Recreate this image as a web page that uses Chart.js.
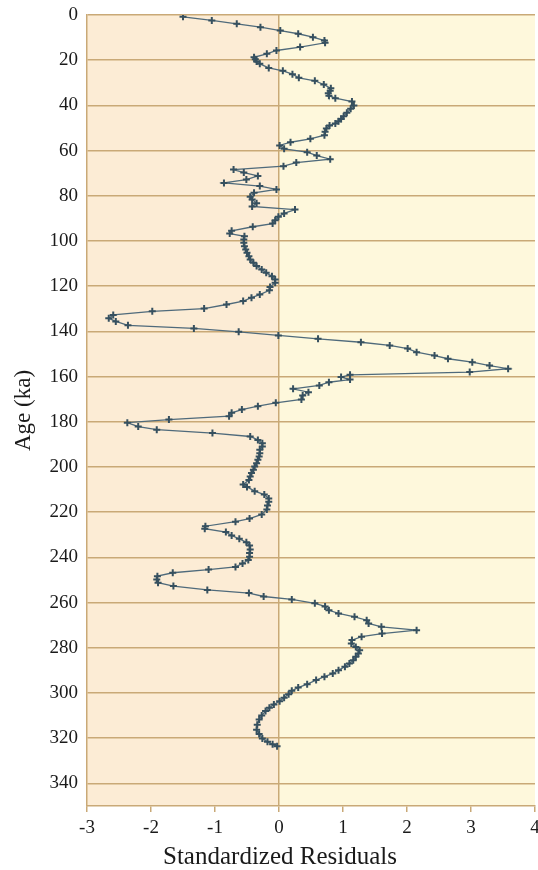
<!DOCTYPE html>
<html>
<head>
<meta charset="utf-8">
<script src="https://cdn.jsdelivr.net/npm/chart.js@4.4.1/dist/chart.umd.min.js"></script>
<style>
  html, body { margin: 0; padding: 0; background: #ffffff; }
  #wrap { width: 538px; height: 870px; position: relative; }
</style>
</head>
<body>
<div id="wrap"><canvas id="chart-residuals"></canvas></div>
<script>
// Age (ka) of each sample
const ages = [
  0.8, 2.4, 3.9, 5.4, 6.9, 8.3, 9.8, 11.3, 12.3, 14.2, 15.7, 17.2, 18.7, 19.6, 20.6, 21.6, 23.4, 24.7, 26.2, 27.8,
  29.1, 30.8, 32.4, 33.5, 34.6, 35.7, 36.8, 38.3, 40.0, 41.5, 43.3, 44.8, 46.0, 47.0, 48.0, 48.9, 50.2, 51.7, 53.2, 54.8,
  56.3, 57.7, 59.2, 60.7, 62.2, 63.8, 65.3, 66.9, 68.4, 69.7, 71.2, 72.8, 74.3, 75.7, 77.2, 78.7, 80.4, 81.6, 83.3, 84.7,
  86.1, 87.8, 89.3, 90.8, 92.3, 93.7, 95.5, 96.7, 97.9, 99.3, 100.8, 102.3, 103.8, 105.2, 106.7, 108.2, 109.6, 111.1, 112.6, 114.1,
  115.6, 117.0, 118.5, 120.3, 121.8, 123.7, 125.1, 126.6, 128.1, 129.9, 131.1, 132.7, 134.2, 135.6, 137.3, 138.7, 140.2, 141.8, 143.3, 144.8,
  146.2, 147.6, 149.2, 150.7, 152.1, 153.6, 155.1, 156.5, 158.0, 159.2, 160.2, 161.3, 162.5, 163.9, 165.4, 166.9, 168.4, 170.1, 171.6, 173.1,
  174.6, 176.0, 177.5, 179.0, 180.4, 182.1, 183.5, 185.0, 186.5, 188.0, 189.5, 190.9, 192.4, 193.9, 195.4, 196.8, 198.3, 199.8, 201.2, 202.7,
  204.2, 205.8, 207.7, 208.8, 210.7, 212.2, 213.9, 215.4, 217.0, 218.8, 221.0, 222.8, 224.2, 226.2, 227.3, 228.8, 230.3, 231.8, 233.3, 234.7,
  236.5, 238.0, 239.7, 241.2, 242.7, 244.2, 245.4, 246.8, 248.3, 249.8, 251.2, 252.7, 254.4, 255.8, 257.3, 258.6, 260.3, 261.7, 263.4, 264.8,
  266.3, 267.8, 269.2, 270.7, 272.2, 273.7, 275.1, 276.6, 278.1, 279.6, 281.1, 282.5, 284.0, 285.5, 286.9, 288.4, 289.9, 291.4, 292.8, 294.3,
  296.1, 297.6, 299.0, 300.5, 302.1, 303.6, 305.1, 306.5, 308.0, 310.0, 311.7, 314.0, 316.3, 318.1, 320.1, 321.6, 322.7, 323.6,
];

// Standardized residual at each age
const residuals = [
  -1.50, -1.05, -0.66, -0.29, 0.02, 0.30, 0.53, 0.71, 0.72, 0.33, -0.04, -0.19, -0.39, -0.37, -0.35, -0.30, -0.16, 0.06, 0.21, 0.31,
  0.56, 0.70, 0.81, 0.80, 0.77, 0.78, 0.88, 1.14, 1.17, 1.12, 1.06, 1.01, 0.97, 0.93, 0.88, 0.79, 0.74, 0.72, 0.71, 0.49,
  0.18, 0.01, 0.08, 0.44, 0.59, 0.80, 0.27, 0.07, -0.71, -0.55, -0.33, -0.51, -0.86, -0.30, -0.04, -0.39, -0.45, -0.42, -0.35, -0.42,
  0.25, 0.08, -0.01, -0.06, -0.10, -0.41, -0.74, -0.77, -0.54, -0.55, -0.55, -0.54, -0.52, -0.50, -0.47, -0.45, -0.40, -0.35, -0.27, -0.20,
  -0.11, -0.06, -0.06, -0.14, -0.15, -0.30, -0.43, -0.56, -0.82, -1.17, -1.98, -2.59, -2.66, -2.55, -2.36, -1.33, -0.63, -0.01, 0.61, 1.28,
  1.73, 2.01, 2.15, 2.43, 2.64, 3.02, 3.29, 3.58, 2.98, 1.11, 0.97, 1.11, 0.78, 0.63, 0.22, 0.46, 0.37, 0.35, -0.05, -0.33,
  -0.58, -0.74, -0.78, -1.72, -2.37, -2.20, -1.91, -1.04, -0.45, -0.33, -0.26, -0.26, -0.30, -0.30, -0.31, -0.33, -0.35, -0.38, -0.40, -0.43,
  -0.45, -0.47, -0.56, -0.50, -0.38, -0.23, -0.16, -0.16, -0.18, -0.19, -0.27, -0.46, -0.68, -1.15, -1.16, -0.83, -0.74, -0.62, -0.51, -0.46,
  -0.45, -0.46, -0.46, -0.48, -0.57, -0.68, -1.10, -1.66, -1.90, -1.91, -1.89, -1.65, -1.12, -0.47, -0.24, 0.20, 0.56, 0.72, 0.78, 0.93,
  1.18, 1.37, 1.40, 1.60, 2.15, 1.61, 1.29, 1.14, 1.13, 1.20, 1.26, 1.24, 1.20, 1.16, 1.10, 1.03, 0.93, 0.84, 0.71, 0.58,
  0.44, 0.30, 0.20, 0.15, 0.08, 0.01, -0.08, -0.15, -0.21, -0.27, -0.31, -0.34, -0.35, -0.31, -0.26, -0.18, -0.10, -0.03,
];

const xTicks = [-3, -2, -1, 0, 1, 2, 3, 4];
const yTicks = [0, 20, 40, 60, 80, 100, 120, 140, 160, 180, 200, 220, 240, 260, 280, 300, 320, 340];

const TAN = '#c9a977';
const SERIF = '"Liberation Serif", "DejaVu Serif", serif';

/**
 * Two-tone plot background, split at residual 0
 */
const halfBackground = {
  id: 'halfBackground',
  beforeDraw(chart) {
    const { ctx, chartArea: a, scales } = chart;
    const x0 = scales.x.getPixelForValue(0);
    ctx.save();
    ctx.fillStyle = '#fcecd5';
    ctx.fillRect(a.left, a.top, x0 - a.left, a.bottom - a.top);
    ctx.fillStyle = '#fef8dc';
    ctx.fillRect(x0, a.top, a.right - x0, a.bottom - a.top);
    ctx.restore();
  },
};

/**
 * Axis titles (x title sits a bit left of the plot centre in the original)
 */
const axisTitles = {
  id: 'axisTitles',
  afterDraw(chart) {
    const { ctx, chartArea: a, scales } = chart;
    ctx.save();
    ctx.fillStyle = '#1a1a1a';
    ctx.textAlign = 'center';
    ctx.textBaseline = 'middle';
    ctx.font = `25px ${SERIF}`;
    ctx.fillText('Standardized Residuals', scales.x.getPixelForValue(0) + 1, 857);
    ctx.translate(24, (a.top + a.bottom) / 2);
    ctx.rotate(-Math.PI / 2);
    ctx.font = `23px ${SERIF}`;
    ctx.fillText('Age (ka)', 0, 0);
    ctx.restore();
  },
};

const canvas = document.getElementById('chart-residuals');
canvas.width = 538;
canvas.height = 870;

new Chart(canvas, {
  type: 'scatter',
  data: {
    datasets: [
      {
        label: 'Standardized Residuals',
        data: ages.map((age, i) => ({ x: residuals[i], y: age })),
        showLine: true,
        borderColor: '#4f6a7b',
        borderWidth: 1.3,
        pointStyle: 'cross',
        pointRadius: 3.5,
        pointBorderWidth: 2,
        pointBorderColor: '#36505f',
        pointBackgroundColor: '#36505f',
      },
    ],
  },
  options: {
    responsive: false,
    animation: false,
    layout: { autoPadding: false, padding: { top: 15, right: 3, left: 0, bottom: 0 } },
    plugins: {
      legend: { display: false },
      tooltip: { enabled: false },
    },
    scales: {
      x: {
        type: 'linear',
        min: -3,
        max: 4,
        afterBuildTicks: (scale) => { scale.ticks = xTicks.map((v) => ({ value: v })); },
        afterFit: (scale) => {
          scale.height = 64;
          scale.paddingLeft = 0;
          scale.paddingRight = 0;
        },
        ticks: {
          color: '#1a1a1a',
          font: { family: SERIF, size: 19 },
          padding: 5,
          maxRotation: 0,
        },
        grid: {
          color: (c) => (c.tick && c.tick.value === 0 ? TAN : 'rgba(0,0,0,0)'),
          lineWidth: 1.5,
          tickColor: TAN,
          tickLength: 6,
          drawTicks: true,
        },
        border: { color: TAN, width: 1.5 },
      },
      y: {
        type: 'linear',
        reverse: true,
        min: 0,
        max: 350,
        afterBuildTicks: (scale) => { scale.ticks = yTicks.map((v) => ({ value: v })); },
        afterFit: (scale) => {
          scale.width = 87;
          scale.paddingTop = 0;
          scale.paddingBottom = 0;
        },
        ticks: {
          color: '#1a1a1a',
          font: { family: SERIF, size: 19 },
          padding: 9,
        },
        grid: {
          color: TAN,
          lineWidth: 1.5,
          drawTicks: false,
        },
        border: { color: TAN, width: 1.5 },
      },
    },
  },
  plugins: [halfBackground, axisTitles],
});
</script>
</body>
</html>
